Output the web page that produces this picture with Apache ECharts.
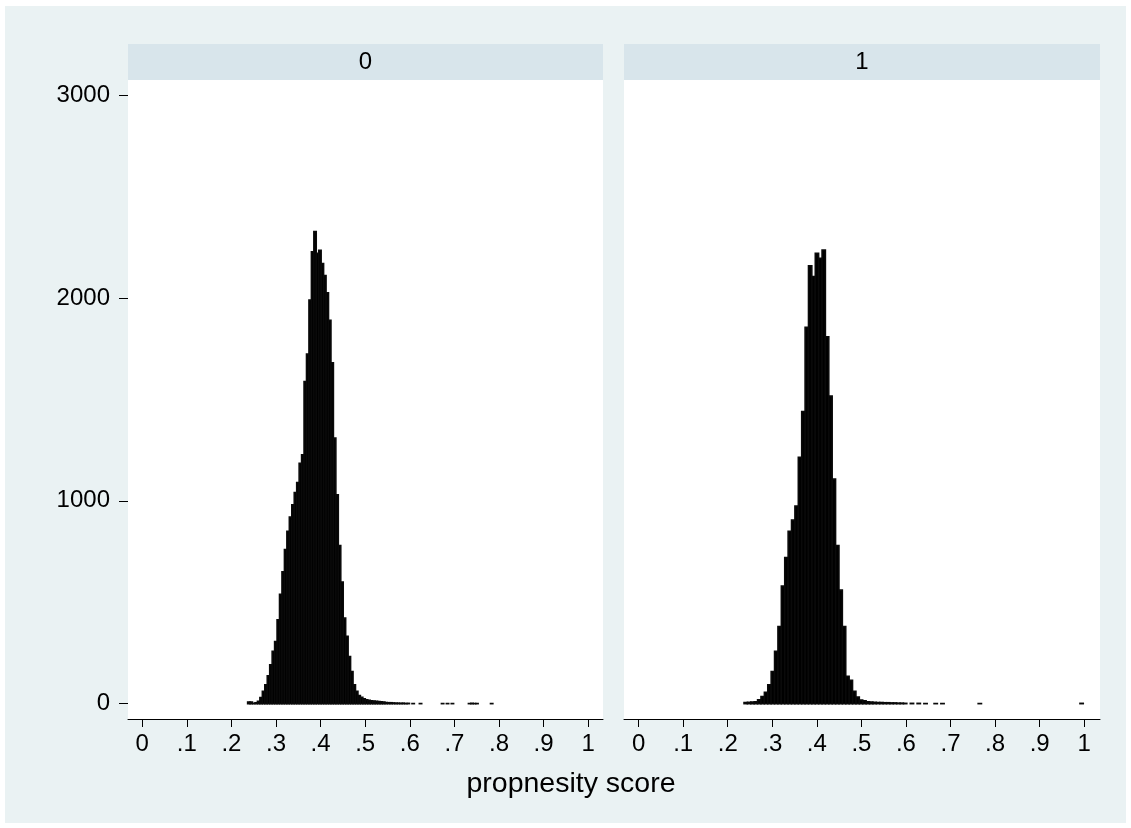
<!DOCTYPE html>
<html>
<head>
<meta charset="utf-8">
<script src="https://cdn.jsdelivr.net/npm/echarts@6/dist/echarts.min.js"></script>
<style>
html,body{margin:0;padding:0;background:#fff;}
#chart{width:1131px;height:828px;}
</style>
</head>
<body>
<div id="chart"></div>
<script>
// ---- data ----
const panelLabels = ['0', '1'];
const axisTitle = 'propnesity score';
const xTicks = [0, 0.1, 0.2, 0.3, 0.4, 0.5, 0.6, 0.7, 0.8, 0.9, 1];
const yTicks = [0, 1000, 2000, 3000];

// group 0: 100 bins
const binStart0 = 0.2363;
const binWidth0 = 0.0055;
const counts0 = [
  9, 8, 2, 5, 12, 31, 61, 94, 138, 192,
  258, 307, 414, 540, 650, 760, 850, 920, 980, 1041,
  1090, 1185, 1227, 1588, 1724, 1990, 2228, 2327, 2220, 2235,
  2170, 2110, 2025, 1890, 1680, 1310, 1030, 780, 600, 422,
  332, 233, 159, 94, 61, 40, 32, 24, 20, 17,
  15, 13, 12, 11, 10, 8, 6, 5, 5, 4,
  3, 3, 2, 3, 1, 2, 0, 1, 0, 0,
  1, 0, 0, 0, 0, 0, 0, 0, 0, 1,
  0, 1, 0, 1, 0, 0, 0, 0, 0, 0,
  1, 2, 1, 1, 0, 0, 0, 0, 0, 1
];

// group 1: 100 bins
const binStart1 = 0.2365;
const binWidth1 = 0.007615;
const counts1 = [
  6, 7, 8, 10, 20, 36, 56, 94, 159, 258,
  381, 580, 720, 850, 905, 975, 1215, 1440, 1856, 2158,
  2105, 2220, 2195, 2236, 1809, 1517, 1107, 780, 560, 380,
  135, 115, 61, 33, 18, 14, 10, 8, 7, 6,
  6, 5, 5, 4, 4, 3, 3, 2, 0, 2,
  0, 2, 0, 1, 0, 0, 1, 0, 1, 0,
  0, 0, 0, 0, 0, 0, 0, 0, 0, 1,
  0, 0, 0, 0, 0, 0, 0, 0, 0, 0,
  0, 0, 0, 0, 0, 0, 0, 0, 0, 0,
  0, 0, 0, 0, 0, 0, 0, 0, 0, 2
];

function toBins(start, width, counts) {
  return counts.map((c, i) => [start + i * width, start + (i + 1) * width, c]);
}

const FONT = "'Liberation Sans', Arial, Helvetica, sans-serif";
const BG = '#eaf2f3';
const HEAD = '#d8e5eb';

function tickFmt(v) {
  const r = Math.round(v * 10);
  if (r === 0) return '0';
  if (r === 10) return '1';
  return '.' + r;
}

const chart = echarts.init(document.getElementById('chart'), null, {renderer: 'canvas'});

const grids = [
  {left: 128, top: 80, width: 475, height: 639},
  {left: 624, top: 80, width: 476, height: 639}
];
const xRanges = [[-0.03184, 1.03318], [-0.03276, 1.03545]];

const option = {
  backgroundColor: '#ffffff',
  animation: false,
  grid: grids.map(g => Object.assign({show: true, backgroundColor: '#ffffff', borderWidth: 0, z: 1}, g)),
  xAxis: [0, 1].map(i => ({
    type: 'value', gridIndex: i, min: xRanges[i][0], max: xRanges[i][1],
    axisLine: {show: true, onZero: false, lineStyle: {color: '#000', width: 1}},
    axisTick: {show: true, length: 8, customValues: xTicks, lineStyle: {color: '#000', width: 1}},
    axisLabel: {show: true, customValues: xTicks, formatter: tickFmt, margin: 13,
      color: '#000', fontSize: 24, fontFamily: FONT},
    splitLine: {show: false}
  })),
  yAxis: [0, 1].map(i => ({
    type: 'value', gridIndex: i, min: -75.4, max: 3074,
    axisLine: {show: i === 0, onZero: false, lineStyle: {color: '#000', width: 1}},
    axisTick: {show: i === 0, length: 9, customValues: yTicks, lineStyle: {color: '#000', width: 1}},
    axisLabel: {show: i === 0, customValues: yTicks, formatter: v => String(Math.round(v)), margin: 18,
      color: '#000', fontSize: 24, fontFamily: FONT},
    splitLine: {show: true, lineStyle: {color: '#e2ecef', width: 1.5}}
  })),
  graphic: [
    {type: 'rect', z: -100, shape: {x: 5, y: 6, width: 1121, height: 817}, style: {fill: BG}},
    {type: 'rect', z: 100, shape: {x: 128, y: 44, width: 475, height: 36}, style: {fill: HEAD}},
    {type: 'rect', z: 100, shape: {x: 624, y: 44, width: 476, height: 36}, style: {fill: HEAD}},
    {type: 'text', z: 101, x: 365.5, y: 62, style: {text: panelLabels[0], fill: '#000', font: '24px ' + FONT, align: 'center', verticalAlign: 'middle'}},
    {type: 'text', z: 101, x: 862, y: 62, style: {text: panelLabels[1], fill: '#000', font: '24px ' + FONT, align: 'center', verticalAlign: 'middle'}},
    {type: 'text', z: 101, x: 571, y: 784, style: {text: axisTitle, fill: '#000', font: '28.5px ' + FONT, align: 'center', verticalAlign: 'middle'}}
  ],
  series: [
    {data: toBins(binStart0, binWidth0, counts0), idx: 0},
    {data: toBins(binStart1, binWidth1, counts1), idx: 1}
  ].map(s => ({
    type: 'custom', xAxisIndex: s.idx, yAxisIndex: s.idx, z: 5,
    data: s.data,
    renderItem: function (params, api) {
      const c = api.value(2);
      if (!c) return null;
      const p0 = api.coord([api.value(0), c]);
      const p1 = api.coord([api.value(1), 0]);
      return {
        type: 'rect',
        shape: {x: p0[0], y: p0[1], width: p1[0] - p0[0], height: p1[1] - p0[1]},
        style: {fill: '#000', stroke: '#0a0a0a', lineWidth: 1.5}
      };
    }
  }))
};
chart.setOption(option);
</script>
</body>
</html>
